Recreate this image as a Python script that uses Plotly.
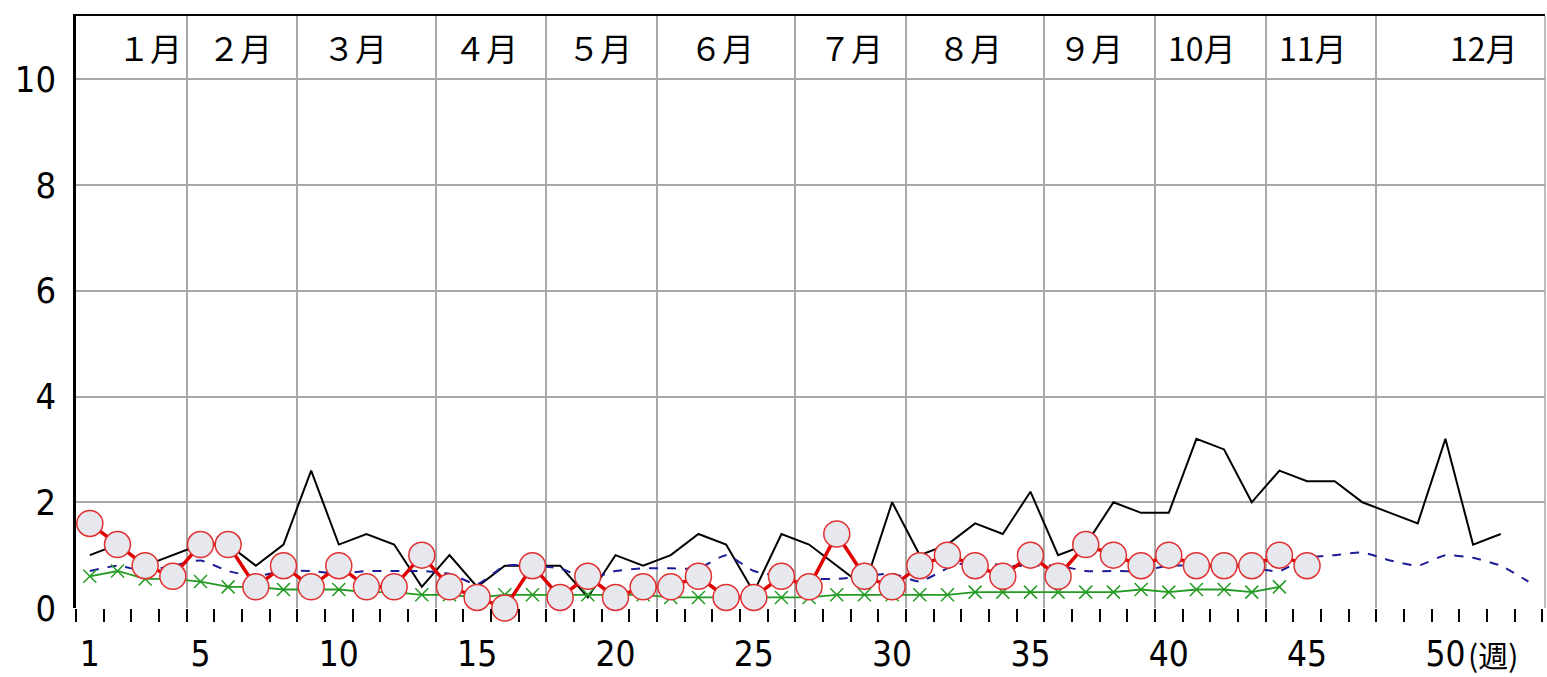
import plotly.graph_objects as go

# ---------------- data ----------------
weeks = list(range(1, 54))

# previous season (black solid)
black_vals = [1.0, 1.2, 0.8, 1.0, 1.2, 1.2, 0.8, 1.2, 2.6, 1.2,
              1.4, 1.2, 0.4, 1.0, 0.4, 0.8, 0.8, 0.8, 0.2, 1.0,
              0.8, 1.0, 1.4, 1.2, 0.3, 1.4, 1.2, 0.8, 0.4, 2.0,
              1.0, 1.2, 1.6, 1.4, 2.2, 1.0, 1.2, 2.0, 1.8, 1.8,
              3.2, 3.0, 2.0, 2.6, 2.4, 2.4, 2.0, 1.8, 1.6, 3.2,
              1.2, 1.4]

# average (blue dashed)
blue_vals = [0.7, 0.8, 0.7, 0.8, 0.9, 0.7, 0.6, 0.7, 0.7, 0.65,
             0.7, 0.7, 0.7, 0.65, 0.45, 0.8, 0.8, 0.75, 0.55, 0.7,
             0.75, 0.75, 0.75, 1.0, 0.7, 0.6, 0.55, 0.55, 0.6, 0.65,
             0.5, 0.75, 0.9, 0.8, 0.8, 0.8, 0.7, 0.7, 0.7, 0.8,
             0.8, 0.8, 0.75, 0.7, 0.95, 1.0, 1.05, 0.9, 0.8, 1.0,
             0.95, 0.8, 0.5]

# other season (green with x)
green_vals = [0.6, 0.7, 0.55, 0.55, 0.5, 0.4, 0.4, 0.35, 0.35, 0.35,
              0.3, 0.3, 0.25, 0.25, 0.2, 0.25, 0.25, 0.25, 0.25, 0.25,
              0.25, 0.2, 0.2, 0.2, 0.2, 0.2, 0.2, 0.25, 0.25, 0.25,
              0.25, 0.25, 0.3, 0.3, 0.3, 0.3, 0.3, 0.3, 0.35, 0.3,
              0.35, 0.35, 0.3, 0.4]

# current season (red with circles)
red_vals = [1.6, 1.2, 0.8, 0.6, 1.2, 1.2, 0.4, 0.8, 0.4, 0.8,
            0.4, 0.4, 1.0, 0.4, 0.2, 0.0, 0.8, 0.2, 0.6, 0.2,
            0.4, 0.4, 0.6, 0.2, 0.2, 0.6, 0.4, 1.4, 0.6, 0.4,
            0.8, 1.0, 0.8, 0.6, 1.0, 0.6, 1.2, 1.0, 0.8, 1.0,
            0.8, 0.8, 0.8, 1.0, 0.8]

month_names = ["１月", "２月", "３月", "４月", "５月", "６月",
               "７月", "８月", "９月", "10月", "11月", "12月"]
x_label_weeks = [1, 5, 10, 15, 20, 25, 30, 35, 40, 45, 50]
x_label_text = ["1", "5", "10", "15", "20", "25", "30", "35", "40", "45", "50"]
y_ticks = [0, 2, 4, 6, 8, 10]
unit_label = "(週)"

# ---------------- layout helpers ----------------
month_bounds = [4.5, 8.5, 13.5, 17.5, 21.5, 26.5, 30.5, 35.5, 39.5, 43.5, 47.5]
month_label_x = [3.18, 6.41, 10.6, 15.32, 19.44, 23.85, 28.5, 32.8, 37.2, 41.2, 45.2, 51.4]
XR = [0.5, 53.6]
YR = [0, 11.2]
GRID = "#a8a8a8"
NUM_FONT = "Liberation Sans Narrow, DejaVu Sans Condensed, Liberation Sans, sans-serif"
CJK_FONT = "Noto Sans CJK JP, Noto Sans CJK SC, sans-serif"

fig = go.Figure()

fig.add_trace(go.Scatter(
    x=weeks[:len(black_vals)], y=black_vals, mode="lines",
    line=dict(color="black", width=2), showlegend=False))

fig.add_trace(go.Scatter(
    x=weeks[:len(blue_vals)], y=blue_vals, mode="lines",
    line=dict(color="#1c1c96", width=2, dash="9px,9px", shape="spline", smoothing=0.5),
    showlegend=False))

fig.add_trace(go.Scatter(
    x=weeks[:len(green_vals)], y=green_vals, mode="lines+markers",
    line=dict(color="#239b23", width=1.8),
    marker=dict(symbol="x-thin", size=13, line=dict(color="#239b23", width=1.5)),
    showlegend=False))

fig.add_trace(go.Scatter(
    x=weeks[:len(red_vals)], y=red_vals, mode="lines+markers",
    line=dict(color="#e00000", width=3.5),
    marker=dict(symbol="circle", size=26, color="#e6e8ee",
                line=dict(color="#e03030", width=1.5)),
    cliponaxis=False, showlegend=False))

annotations = []
for name, xm in zip(month_names, month_label_x):
    annotations.append(dict(x=xm, y=10.62, xref="x", yref="y", text=name,
                            showarrow=False, xanchor="center", yanchor="middle",
                            font=dict(family=CJK_FONT, size=32, color="black")))
annotations.append(dict(x=50.75, y=0, xref="x", yref="paper", text=unit_label,
                        showarrow=False, xanchor="left", yanchor="middle", yshift=-46,
                        font=dict(family=CJK_FONT, size=30, color="black")))

fig.update_layout(
    width=1547, height=677,
    margin=dict(l=76, r=2, t=16, b=69, autoexpand=False),
    paper_bgcolor="white", plot_bgcolor="white",
    xaxis=dict(range=XR, tickmode="array", tickvals=x_label_weeks, ticktext=x_label_text,
               ticks="", showgrid=False, zeroline=False, showline=False,
               automargin=False, ticklabelstandoff=22,
               tickfont=dict(family=NUM_FONT, size=35, color="black"),
               minor=dict(ticks="outside", tickmode="linear", tick0=0.5, dtick=1,
                          ticklen=13, tickwidth=2, tickcolor="black", showgrid=False)),
    xaxis2=dict(range=XR, overlaying="x", side="top", tickmode="array",
                tickvals=month_bounds, showticklabels=False, ticks="",
                showgrid=True, gridcolor=GRID, gridwidth=1.5, zeroline=False,
                automargin=False, showline=True, linecolor="black", linewidth=2),
    yaxis=dict(range=YR, tickmode="array", tickvals=y_ticks, ticks="",
               showgrid=True, gridcolor=GRID, gridwidth=1.5, zeroline=False,
               showline=True, linecolor="black", linewidth=2.5,
               automargin=False, ticklabelstandoff=10,
               tickfont=dict(family=NUM_FONT, size=36, color="black")),
    annotations=annotations,
    shapes=[dict(type="line", xref="paper", yref="paper", x0=1, x1=1, y0=0, y1=1,
                 line=dict(color=GRID, width=1.5))],
)

# invisible trace so xaxis2 is bound
fig.add_trace(go.Scatter(x=[XR[0]], y=[0], xaxis="x2", mode="markers",
                         marker=dict(opacity=0), hoverinfo="skip", showlegend=False))

fig.write_html("out.html", config={"displayModeBar": False},
               post_script="document.body.style.margin='0px';document.body.style.padding='0px';")
